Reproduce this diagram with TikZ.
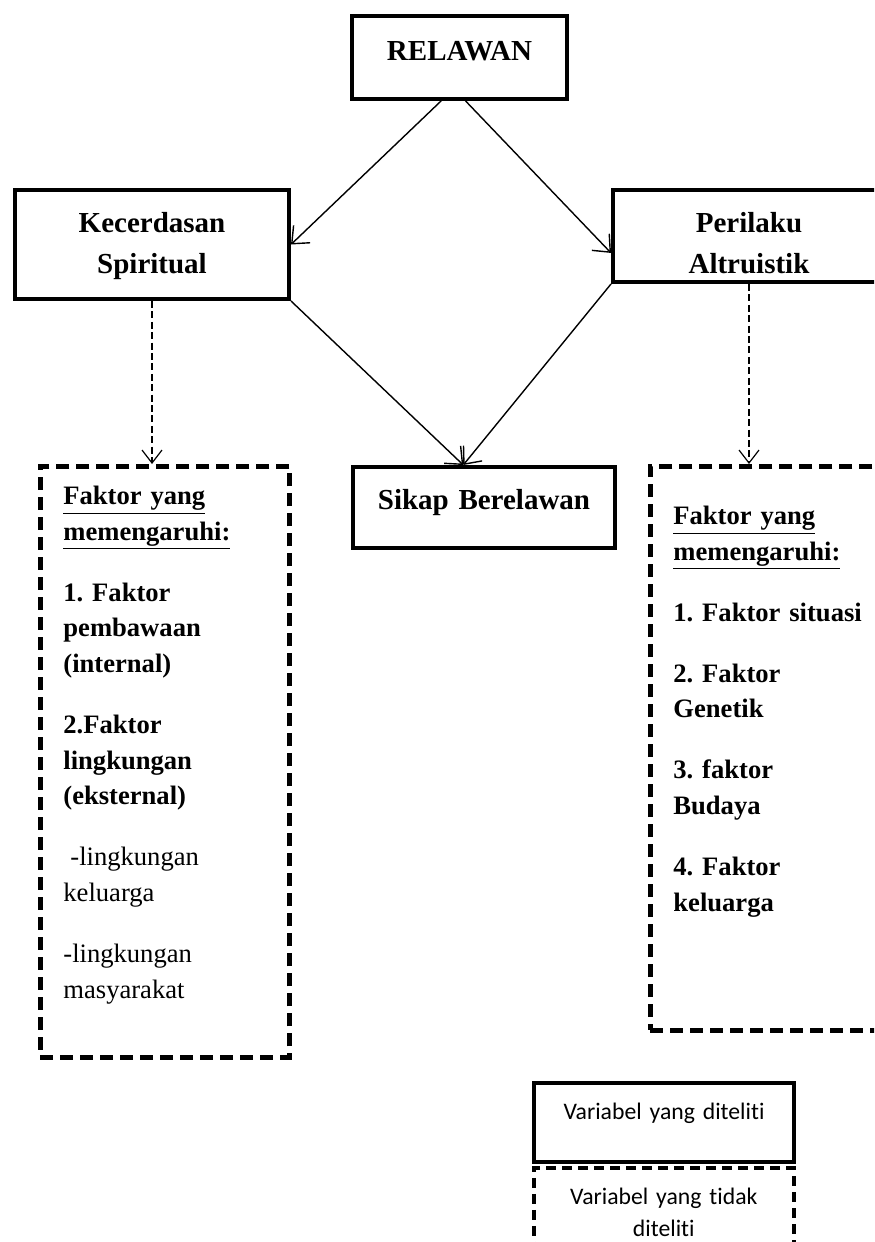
\documentclass[tikz,border=0pt]{standalone}
\usepackage{fontspec}
\setmainfont{Liberation Serif}
\newfontfamily\legendfont[Ligatures=NoCommon]{Carlito}
\usetikzlibrary{arrows.meta}
\frenchspacing

\begin{document}
\begin{tikzpicture}[x=0.5pt, y=-0.5pt,
  varbox/.style={draw, line width=2pt, anchor=north west, align=center, text width=#1, inner xsep=0pt, inner ysep=0pt, font=\bfseries\fontsize{14.5}{20.5}\selectfont},
  faktorbox/.style={draw, line width=2.4pt, dash pattern=on 6.5pt off 3.5pt, anchor=north west, align=left, text width=101.5pt, inner xsep=11.5pt, inner ysep=0pt, font=\bfseries\fontsize{13.3}{17.85}\selectfont},
  legendbox/.style={draw, anchor=north west, align=center, text width=130pt, inner xsep=0pt, inner ysep=0pt, font=\legendfont\fontsize{11.85}{16}\selectfont},
  panah/.style={line width=0.7pt, -{Straight Barb[length=7pt,width=12pt]}},
  panahputus/.style={line width=0.6pt, dash pattern=on 3.5pt off 1.7pt, -{Straight Barb[length=6.5pt,width=10pt]}}
]
\path[use as bounding box] (0,0) rectangle (874,1242);
\clip (0,0) rectangle (874,1242);

\node[varbox=107.5pt, text height=22pt, text depth=19.5pt] (relawan) at (350,14) {RELAWAN};
\node[varbox=137pt, text height=21pt, text depth=33.5pt] (kecerdasan) at (13,188) {Kecerdasan\\Spiritual};
\node[varbox=136pt, text height=21pt, text depth=25pt] (perilaku) at (611,188) {Perilaku\\Altruistik};
\node[varbox=131pt, text height=21pt, text depth=19.5pt] (sikap) at (351,465) {Sikap Berelawan};

\node[faktorbox, text height=19pt, text depth=276.5pt] (faktorkiri) at (38,464) {\underline{Faktor yang}\\\underline{memengaruhi:}\\[12.65pt]
1. Faktor\\pembawaan\\(internal)\\[12.65pt]
2.Faktor\\lingkungan\\(eksternal)\\[12.65pt]
\mdseries\hspace*{3.5pt}-lingkungan\\keluarga\\[12.65pt]
-lingkungan\\masyarakat};
\node[faktorbox, text height=29pt, text depth=253pt] (faktorkanan) at (648,464) {\underline{Faktor yang}\\\underline{memengaruhi:}\\[12.65pt]
1. Faktor situasi\\[12.65pt]
2. Faktor\\Genetik\\[12.65pt]
3. faktor\\Budaya\\[12.65pt]
4. Faktor\\keluarga};

\node[legendbox, line width=2pt, text height=18pt, text depth=21.5pt] (diteliti) at (532,1081) {Variabel yang diteliti};
\node[legendbox, line width=1.8pt, dash pattern=on 5pt off 3pt, text height=18.5pt, text depth=28.5pt] (tidakditeliti) at (532,1166) {Variabel yang tidak\\diteliti};

\draw[panah] (relawan.-113) -- (kecerdasan.east);
\draw[panah] (relawan.-82) -- (perilaku.187);
\draw[panah] (kecerdasan.south east) -- (sikap.116);
\draw[panah] (perilaku.south west) -- (sikap.116);
\draw[panahputus] (kecerdasan.south) -- (kecerdasan.south |- faktorkiri.north);
\draw[panahputus] (perilaku.south) -- (perilaku.south |- faktorkanan.north);
\end{tikzpicture}
\end{document}
